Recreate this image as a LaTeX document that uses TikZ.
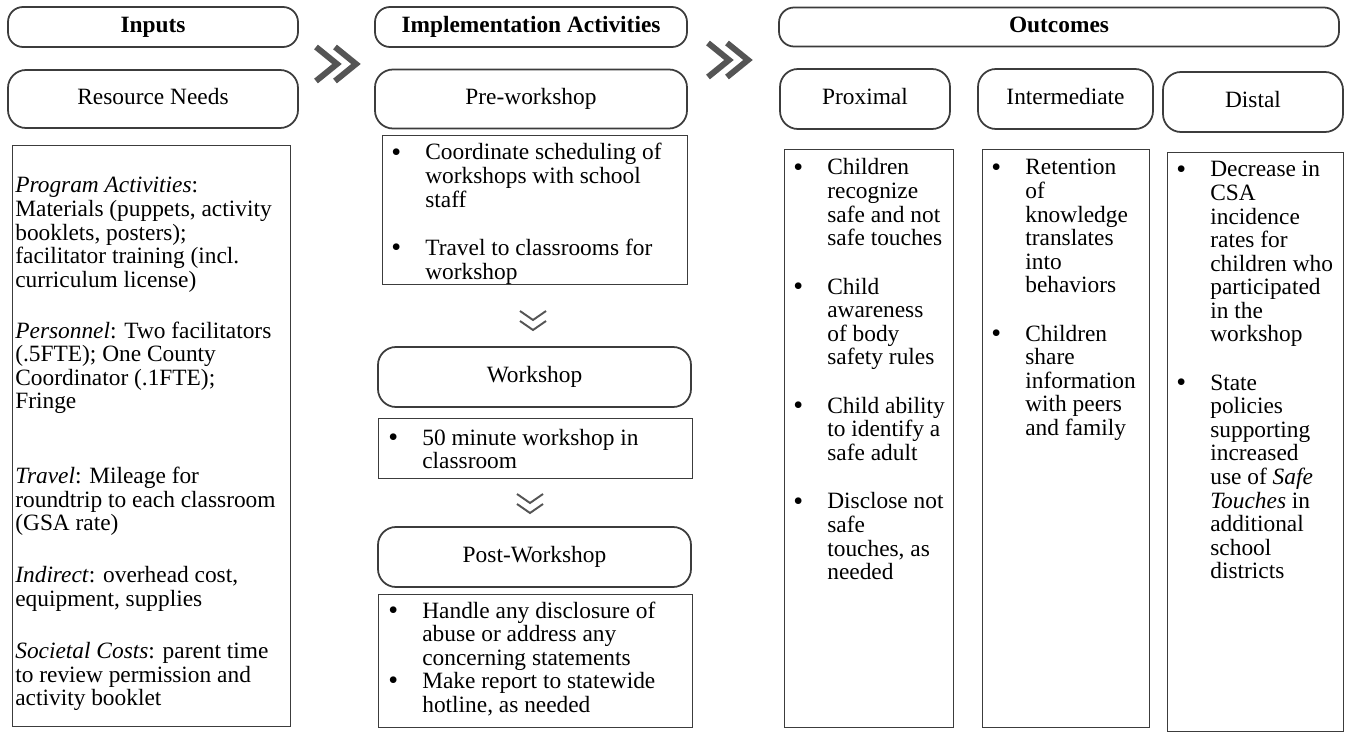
\documentclass[tikz,border=0pt]{standalone}
\usepackage{fontspec}
\setmainfont{Liberation Serif}

\definecolor{framegray}{HTML}{3C3C3C}
\definecolor{chevgray}{HTML}{555555}

% one unit = one pixel of the layout grid
\newcommand{\pxl}{0.02cm}
\newcommand{\bl}{\hspace{0.12cm}\raisebox{-0.6pt}{\fontsize{16}{13.4}\selectfont\textbullet}}
% bulleted and plain text blocks
\newcommand{\blist}[1]{\begin{tabular}[t]{@{}p{0.8cm}@{}l@{}}#1\end{tabular}}
\newcommand{\plist}[1]{\begin{tabular}[t]{@{}l@{}}#1\end{tabular}}

\tikzset{
hdr/.style={rectangle,rounded corners=0.3cm,draw=framegray,line width=1pt,
  inner sep=0,text height=9.3pt,text depth=2.5pt},
subhdr/.style={hdr,rounded corners=0.36cm},
bodybox/.style={rectangle,draw=framegray,line width=0.8pt,inner sep=0,anchor=north west},
bodytext/.style={inner sep=0,anchor=base west},
chev/.style={draw=chevgray,line width=3.4pt},
chevdown/.style={draw=chevgray,line width=1.1pt},
rchev/.pic={
  \draw[chev] (0,-17) -- (21,0) -- (0,17);
  \draw[chev] (19,-17) -- (40,0) -- (19,17);
},
dchev/.pic={
  \draw[chevdown] (-13,0) -- (0,9) -- (13,0);
  \draw[chevdown] (-13,10) -- (0,19) -- (13,10);
},
}

\begin{document}
\begin{tikzpicture}[x=\pxl,y=-\pxl,font=\fontsize{13.3}{13.4}\selectfont]
\useasboundingbox (0,0) rectangle (1349,733);

% column heads
\node[hdr,minimum width=290*\pxl,minimum height=40*\pxl] (inputs) at (153,27) {\textbf{Inputs}};
\node[hdr,minimum width=312*\pxl,minimum height=40*\pxl] (impl) at (531,27) {\textbf{Implementation Activities}};
\node[hdr,minimum width=560*\pxl,minimum height=39*\pxl] (outc) at (1059,27) {\textbf{Outcomes}};

\node[subhdr,minimum width=290*\pxl,minimum height=58*\pxl] (resneeds) at (153,99) {Resource Needs};
\node[subhdr,minimum width=312*\pxl,minimum height=59*\pxl] (prework) at (531,99) {Pre-workshop};
\node[subhdr,minimum width=170*\pxl,minimum height=60*\pxl] (proximal) at (865,99) {Proximal};
\node[subhdr,minimum width=175*\pxl,minimum height=60*\pxl] (intermed) at (1065.5,99) {Intermediate};
\node[subhdr,minimum width=180*\pxl,minimum height=60*\pxl] (distal) at (1253,102) {Distal};
\node[subhdr,minimum width=313*\pxl,minimum height=60*\pxl] (workshop) at (534.5,377) {Workshop};
\node[subhdr,minimum width=313*\pxl,minimum height=60*\pxl] (postws) at (534.5,557) {Post-Workshop};

% chevrons
\pic at (316,64) {rchev};
\pic at (708,60) {rchev};
\pic at (533,311) {dchev};
\pic at (530,494) {dchev};

% boxes under the heads
\node[bodybox,minimum width=278*\pxl,minimum height=581*\pxl] (inbox) at (12,145) {};
\node[bodybox,minimum width=305*\pxl,minimum height=149*\pxl] (prebox) at (382,135) {};
\node[bodybox,minimum width=314*\pxl,minimum height=60*\pxl] (wsbox) at (378,418) {};
\node[bodybox,minimum width=314*\pxl,minimum height=133*\pxl] (postbox) at (378,594) {};
\node[bodybox,minimum width=169*\pxl,minimum height=578*\pxl] (proxbox) at (784,149) {};
\node[bodybox,minimum width=167*\pxl,minimum height=578*\pxl] (interbox) at (982,149) {};
\node[bodybox,minimum width=176*\pxl,minimum height=579*\pxl] (distbox) at (1167,152) {};

% box contents
\node[bodytext] (intext) at (15,193) {\plist{
\textit{Program Activities}:\\
Materials (puppets, activity\\
booklets, posters);\\
facilitator training (incl.\\
curriculum license)\\[0.55cm]
\textit{Personnel}: Two facilitators\\
(.5FTE); One County\\
Coordinator (.1FTE);\\
Fringe\\[1.03cm]
\textit{Travel}: Mileage for\\
roundtrip to each classroom\\
(GSA rate)\\[0.57cm]
\textit{Indirect}: overhead cost,\\
equipment, supplies\\[0.57cm]
\textit{Societal Costs}: parent time\\
to review permission and\\
activity booklet}};

\node[bodytext] (pretext) at (385,160) {\blist{
\bl & Coordinate scheduling of\\
 & workshops with school\\
 & staff\\[0.5cm]
\bl & Travel to classrooms for\\
 & workshop}};

\node[bodytext] (wstext) at (382,445) {\blist{
\bl & 50 minute workshop in\\
 & classroom}};

\node[bodytext] (posttext) at (382,618) {\blist{
\bl & Handle any disclosure of\\
 & abuse or address any\\
 & concerning statements\\
\bl & Make report to statewide\\
 & hotline, as needed}};

\node[bodytext] (proxtext) at (787,175) {\blist{
\bl & Children\\
 & recognize\\
 & safe and not\\
 & safe touches\\[0.5cm]
\bl & Child\\
 & awareness\\
 & of body\\
 & safety rules\\[0.5cm]
\bl & Child ability\\
 & to identify a\\
 & safe adult\\[0.5cm]
\bl & Disclose not\\
 & safe\\
 & touches, as\\
 & needed}};

\node[bodytext] (intertext) at (985,175) {\blist{
\bl & Retention\\
 & of\\
 & knowledge\\
 & translates\\
 & into\\
 & behaviors\\[0.5cm]
\bl & Children\\
 & share\\
 & information\\
 & with peers\\
 & and family}};

\node[bodytext] (disttext) at (1170,177) {\blist{
\bl & Decrease in\\
 & CSA\\
 & incidence\\
 & rates for\\
 & children who\\
 & participated\\
 & in the\\
 & workshop\\[0.5cm]
\bl & State\\
 & policies\\
 & supporting\\
 & increased\\
 & use of \textit{Safe}\\
 & \textit{Touches} in\\
 & additional\\
 & school\\
 & districts}};
\end{tikzpicture}
\end{document}
